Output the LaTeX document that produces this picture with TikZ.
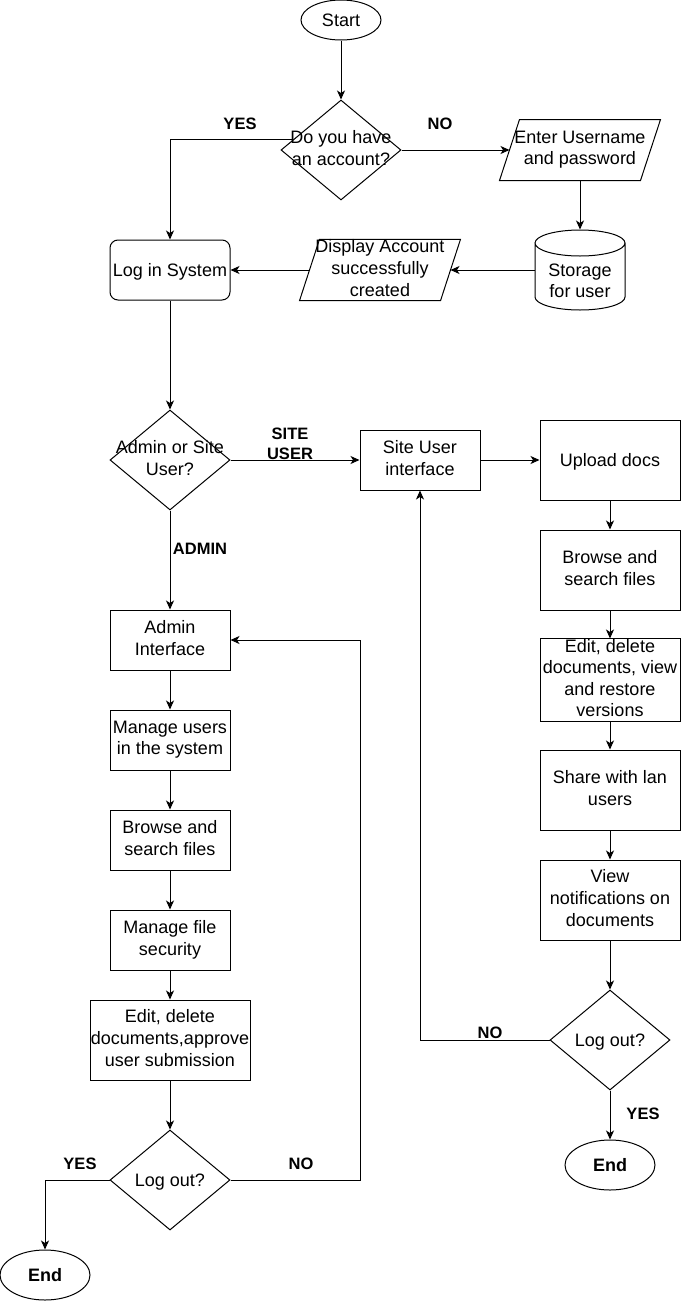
\documentclass[tikz,border=0pt]{standalone}
\usepackage{fontspec}
\setmainfont{Liberation Sans}
\usetikzlibrary{shapes.geometric,arrows.meta,calc}
\newcommand\flowstrut{\vrule width 0pt height 17.4pt depth 4.2pt}

\begin{document}
\begin{tikzpicture}[x=1pt,y=-1pt,line width=1pt,
	every node/.style={font=\fontsize{18}{21.6}\selectfont,align=center,inner sep=0pt},
	txt/.style={execute at begin node=\flowstrut,execute at end node=\flowstrut},
	box/.style={txt,draw,rectangle,minimum width=120,minimum height=60},
	bigbox/.style={txt,draw,rectangle,minimum width=140,minimum height=80},
	decision/.style={draw,diamond,minimum width=120,minimum height=100},
	terminal/.style={txt,draw,ellipse,minimum width=80,minimum height=40},
	io/.style={txt,rectangle,minimum width=160,minimum height=60},
	lbl/.style={font=\bfseries\fontsize{16.5}{19.8}\selectfont},
	flow/.style={-{Stealth[length=9pt,width=8pt,inset=2.5pt]}}]
		\useasboundingbox (0,0) rectangle (681,1301);
		\node[terminal] (start) at (341,20) {Start};
		\node[decision] (acct) at (341,150) {};
		\node[txt] (acct-t) at (341,150) {Do you have\\an account?};
		\node[io] (enter) at (580,150) {Enter Username\\and password};
			\draw ([xshift=20]enter.north west) -- (enter.north east) -- ([xshift=-20]enter.south east) -- (enter.south west) -- cycle;
		\node[minimum width=90,minimum height=80] (store) at (580,270) {};
		\node[txt] (store-t) at (580,283) {Storage\\for user};
			\draw (535,243) -- (535,297) arc[start angle=180,end angle=0,x radius=45,y radius=13] -- (625,243) arc[start angle=0,end angle=-180,x radius=45,y radius=13] arc[start angle=180,end angle=0,x radius=45,y radius=13];
		\node[io] (disp) at (380,270) {Display Account\\successfully\\created};
			\draw ([xshift=20]disp.north west) -- (disp.north east) -- ([xshift=-20]disp.south east) -- (disp.south west) -- cycle;
		\node[box,rounded corners=8] (login) at (170,270) {Log in System};
		\node[decision] (role) at (170,460) {};
		\node[txt] (role-t) at (170,460) {Admin or Site\\User?};
		\node[box] (site) at (420,460) {Site User\\interface};
		\node[bigbox] (upload) at (610,460) {Upload docs};
		\node[bigbox] (browseB) at (610,570) {Browse and\\search files};
		\node[bigbox] (editB) at (610,680) {Edit, delete\\documents, view\\and restore\\versions};
		\node[bigbox] (share) at (610,790) {Share with lan\\users};
		\node[bigbox] (notify) at (610,900) {View\\notifications on\\documents};
		\node[decision] (outB) at (610,1040) {};
		\node[txt] (outB-t) at (610,1040) {Log out?};
		\node[terminal,minimum width=90,minimum height=50] (endB) at (610,1165) {\bfseries End};
		\node[box] (admin) at (170,640) {Admin\\Interface};
		\node[box] (users) at (170,740) {Manage users\\in the system};
		\node[box] (browseA) at (170,840) {Browse and\\search files};
		\node[box] (secure) at (170,940) {Manage file\\security};
		\node[box,minimum width=160,minimum height=80] (editA) at (170,1040) {Edit, delete\\documents,approve\\user submission};
		\node[decision] (outA) at (170,1180) {};
		\node[txt] (outA-t) at (170,1180) {Log out?};
		\node[terminal,minimum width=90,minimum height=50] (endA) at (45,1275) {\bfseries End};
		\draw[flow] (start.south) -- (acct.north);
		\draw[flow] ($(acct.west)!0.2!(acct.north)$) -| (login.north);
		\draw[flow] (acct.east) -- ([xshift=10]enter.west);
		\draw[flow] (enter.south) -- (store.north);
		\draw[flow] (store.west) -- ([xshift=-10]disp.east);
		\draw[flow] ([xshift=10]disp.west) -- (login.east);
		\draw[flow] (login.south) -- (role.north);
		\draw[flow] (role.east) -- (site.west);
		\draw[flow] (site.east) -- (upload.west);
		\draw[flow] (upload.south) -- (browseB.north);
		\draw[flow] (browseB.south) -- (editB.north);
		\draw[flow] (editB.south) -- (share.north);
		\draw[flow] (share.south) -- (notify.north);
		\draw[flow] (notify.south) -- (outB.north);
		\draw[flow] (outB.west) -| (site.south);
		\draw[flow] (outB.south) -- (endB.north);
		\draw[flow] (role.south) -- (admin.north);
		\draw[flow] (admin.south) -- (users.north);
		\draw[flow] (users.south) -- (browseA.north);
		\draw[flow] (browseA.south) -- (secure.north);
		\draw[flow] (secure.south) -- (editA.north);
		\draw[flow] (editA.south) -- (outA.north);
		\draw[flow] (outA.west) -| (endA.north);
		\draw[flow] (outA.east) -- ++(130,0) |- (admin.east);
		\node[lbl] (yesA) at (240,124) {YES};
		\node[lbl] (noA) at (440,124) {NO};
		\node[lbl] (siteusr) at (290,444) {SITE\\USER};
		\node[lbl] (adminlbl) at (200,549) {ADMIN};
		\node[lbl] (noB) at (490,1033) {NO};
		\node[lbl] (yesB) at (643,1114) {YES};
		\node[lbl] (yesC) at (80,1164) {YES};
		\node[lbl] (noC) at (301,1164) {NO};
\end{tikzpicture}
\end{document}
